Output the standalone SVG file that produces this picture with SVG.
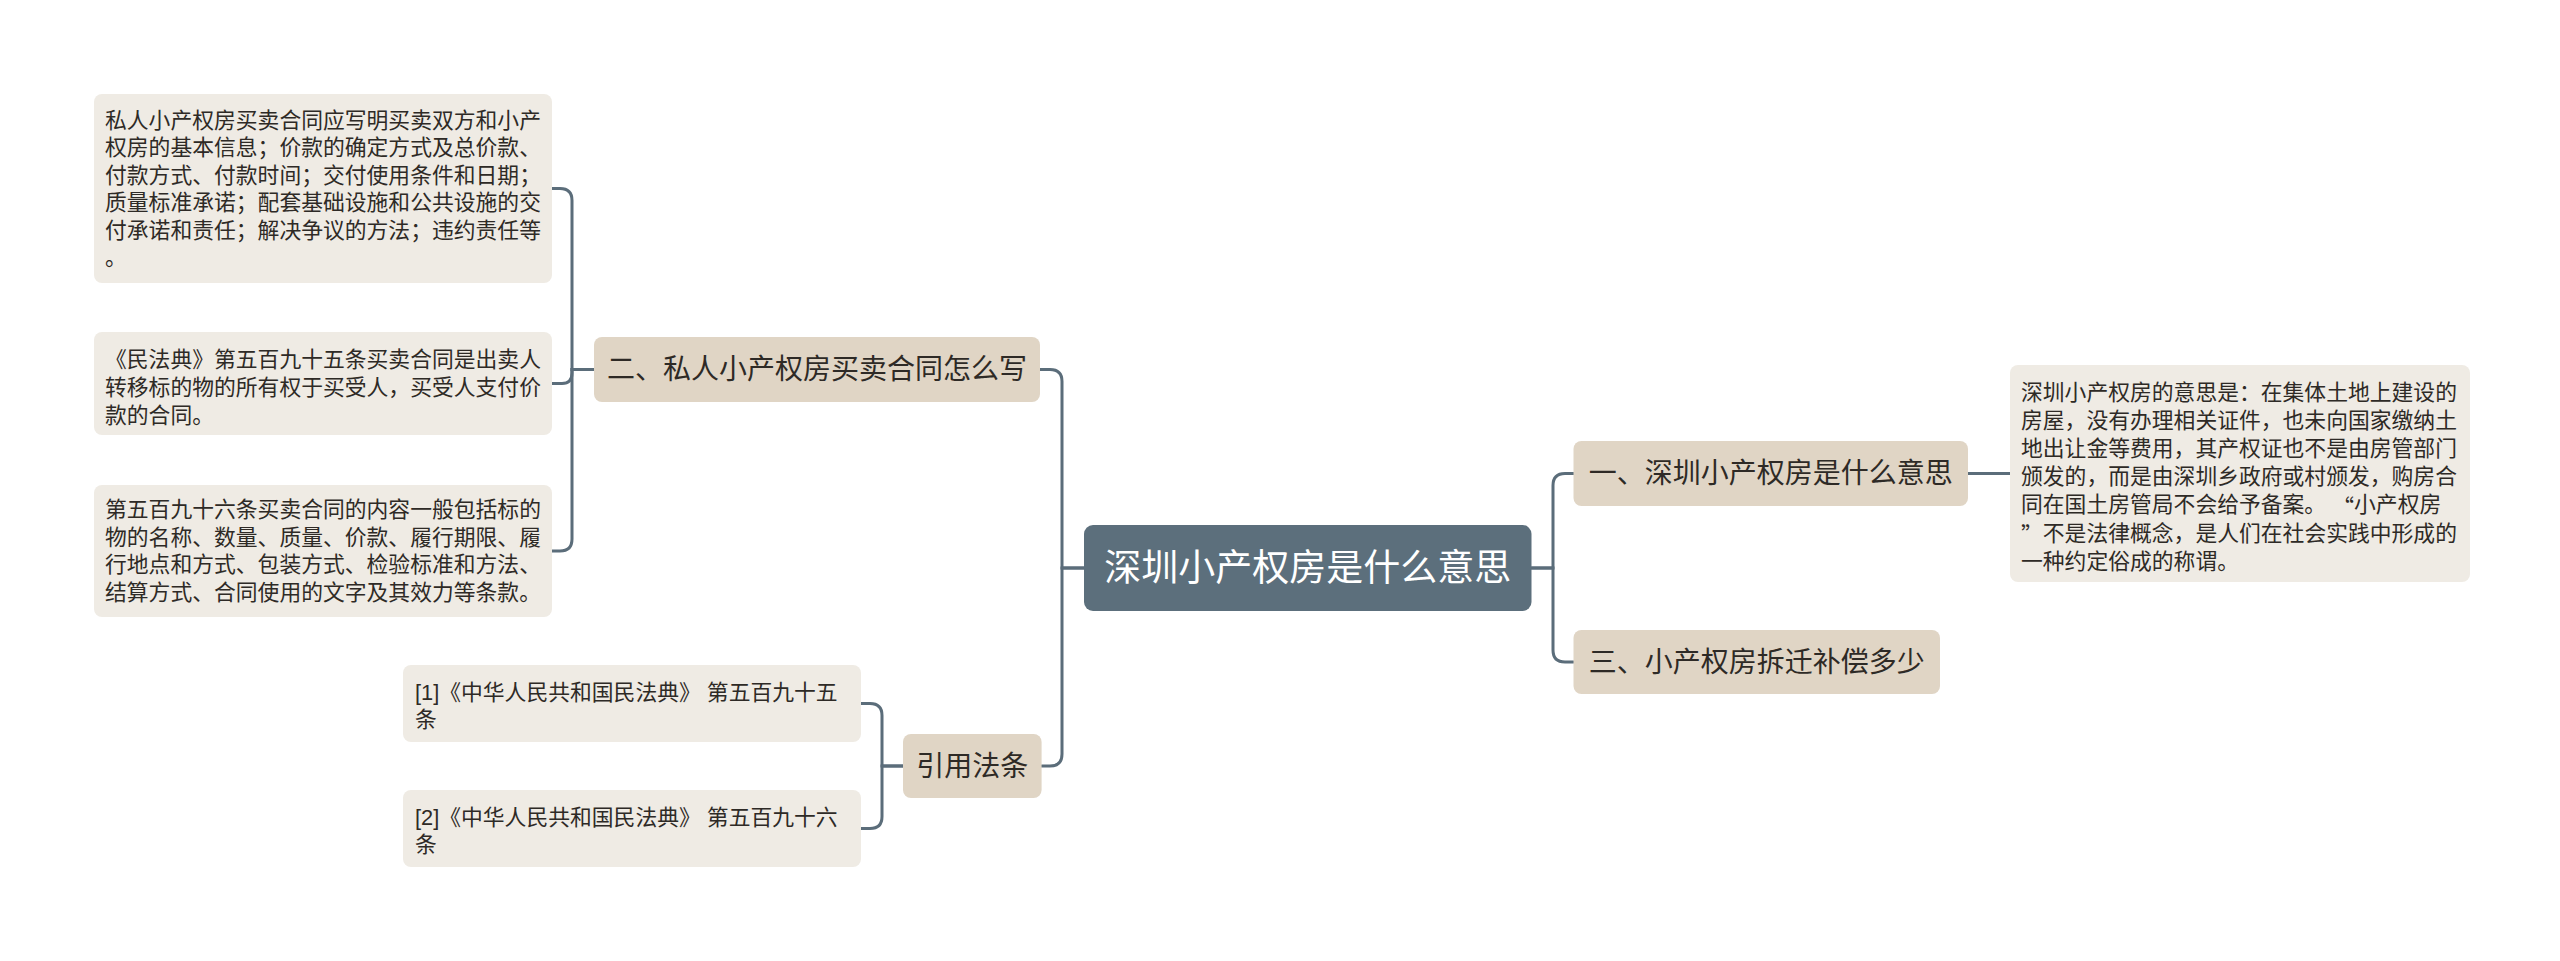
<svg xmlns="http://www.w3.org/2000/svg" width="2560" height="961" viewBox="0 0 2560 961">
<style>
.bg{fill:#ffffff}
.c{fill:none;stroke:#5b6d7a;stroke-width:3;stroke-linecap:round}
.root{fill:#5c6f7c}
.l1{fill:#e0d5c5}
.leaf{fill:#efebe4}
text{font-family:'Liberation Sans','Noto Sans CJK SC',sans-serif;fill:#2e2a26;dominant-baseline:central}
.rt{font-size:37px;fill:#ffffff;text-anchor:middle}
.t1{font-size:28px;text-anchor:middle}
.lt{font-size:21.8px}
.q{font-family:'Noto Sans CJK SC',sans-serif}
</style>
<rect class="bg" x="0" y="0" width="2560" height="961"/>
<g id="connectors">
<path class="c" d="M1084,568 H1062 V381.5 Q1062,369.5 1050,369.5 H1040"/>
<path class="c" d="M1084,568 H1062 V754 Q1062,766 1050,766 H1041.6"/>
<path class="c" d="M1531.5,568 H1553 V485.5 Q1553,473.5 1565,473.5 H1573.5"/>
<path class="c" d="M1531.5,568 H1553 V650 Q1553,662 1565,662 H1573.5"/>
<path class="c" d="M594,369.5 H572 V200.5 Q572,188.5 560,188.5 H552"/>
<path class="c" d="M594,369.5 H572 V373 Q572,383.5 562,383.5 H552"/>
<path class="c" d="M594,369.5 H572 V539 Q572,551 560,551 H552"/>
<path class="c" d="M903,766 H882 V715.5 Q882,703.5 870,703.5 H861"/>
<path class="c" d="M903,766 H882 V816.5 Q882,828.5 870,828.5 H861"/>
<path class="c" d="M1968,473.5 H2010"/>
</g>
<g id="root">
<rect class="root" x="1084" y="525" width="447.5" height="86" rx="9"/>
<text class="rt" x="1307.75" y="568">深圳小产权房是什么意思</text>
</g>
<g id="n2">
<rect class="l1" x="594" y="337" width="446" height="65" rx="8"/>
<text class="t1" x="817" y="369.5">二、私人小产权房买卖合同怎么写</text>
</g>
<g id="n1">
<rect class="l1" x="1573.5" y="441" width="394.5" height="65" rx="8"/>
<text class="t1" x="1770.75" y="473.5">一、深圳小产权房是什么意思</text>
</g>
<g id="n3">
<rect class="l1" x="1573.5" y="630" width="366.5" height="64" rx="8"/>
<text class="t1" x="1756.75" y="662">三、小产权房拆迁补偿多少</text>
</g>
<g id="nref">
<rect class="l1" x="903" y="734" width="138.6" height="64" rx="8"/>
<text class="t1" x="972.3" y="766">引用法条</text>
</g>
<g id="leaf1">
<rect class="leaf" x="94" y="94" width="458" height="189" rx="8"/>
<text class="lt" x="105" y="120">私人小产权房买卖合同应写明买卖双方和小产</text>
<text class="lt" x="105" y="147.5">权房的基本信息；价款的确定方式及总价款、</text>
<text class="lt" x="105" y="175">付款方式、付款时间；交付使用条件和日期；</text>
<text class="lt" x="105" y="202.5">质量标准承诺；配套基础设施和公共设施的交</text>
<text class="lt" x="105" y="230">付承诺和责任；解决争议的方法；违约责任等</text>
<text class="lt" x="105" y="257.5">。</text>
</g>
<g id="leaf2">
<rect class="leaf" x="94" y="332" width="458" height="103" rx="8"/>
<text class="lt" x="105" y="359">《民法典》第五百九十五条买卖合同是出卖人</text>
<text class="lt" x="105" y="387">转移标的物的所有权于买受人，买受人支付价</text>
<text class="lt" x="105" y="415">款的合同。</text>
</g>
<g id="leaf3">
<rect class="leaf" x="94" y="485" width="458" height="132" rx="8"/>
<text class="lt" x="105" y="509">第五百九十六条买卖合同的内容一般包括标的</text>
<text class="lt" x="105" y="537">物的名称、数量、质量、价款、履行期限、履</text>
<text class="lt" x="105" y="564.5">行地点和方式、包装方式、检验标准和方法、</text>
<text class="lt" x="105" y="592">结算方式、合同使用的文字及其效力等条款。</text>
</g>
<g id="ref1">
<rect class="leaf" x="403" y="665" width="458" height="77" rx="8"/>
<text class="lt" x="415" y="692">[1]《中华人民共和国民法典》 第五百九十五</text>
<text class="lt" x="415" y="719.5">条</text>
</g>
<g id="ref2">
<rect class="leaf" x="403" y="790" width="458" height="77" rx="8"/>
<text class="lt" x="415" y="817">[2]《中华人民共和国民法典》 第五百九十六</text>
<text class="lt" x="415" y="844">条</text>
</g>
<g id="detail">
<rect class="leaf" x="2010" y="365" width="460" height="217" rx="8"/>
<text class="lt" x="2021" y="392">深圳小产权房的意思是：在集体土地上建设的</text>
<text class="lt" x="2021" y="420">房屋，没有办理相关证件，也未向国家缴纳土</text>
<text class="lt" x="2021" y="448">地出让金等费用，其产权证也不是由房管部门</text>
<text class="lt" x="2021" y="476.5">颁发的，而是由深圳乡政府或村颁发，购房合</text>
<text class="lt" x="2021" y="504.5">同在国土房管局不会给予备案。 <tspan class="q">“</tspan>小产权房</text>
<text class="lt" x="2021" y="533"><tspan class="q">”</tspan>不是法律概念，是人们在社会实践中形成的</text>
<text class="lt" x="2021" y="561">一种约定俗成的称谓。</text>
</g>
</svg>
